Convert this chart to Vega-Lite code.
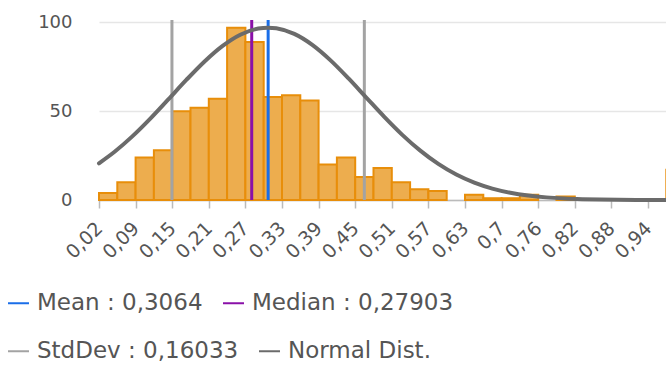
{
  "$schema": "https://vega.github.io/schema/vega-lite/v6.json",
  "width": 567,
  "height": 180,
  "autosize": {"type": "none"},
  "padding": {"left": 99, "top": 20, "right": 0, "bottom": 165},
  "background": "white",
  "config": {
    "view": {"stroke": null},
    "font": "DejaVu Sans",
    "axis": {"labelOverlap": false},
    "axisX": {"labelFontSize": 19},
    "legend": {
      "title": null,
      "orient": "none",
      "direction": "horizontal",
      "padding": 0,
      "columnPadding": 16,
      "symbolType": "stroke",
      "symbolSize": 441,
      "symbolStrokeWidth": 2,
      "labelFontSize": 23,
      "labelColor": "#555555",
      "labelOffset": 7,
      "labelLimit": 400
    }
  },
  "encoding": {
    "x": {
      "field": "x", "type": "quantitative",
      "scale": {"domain": [0.0245, 1.0005], "range": [0, 585.6], "nice": false, "zero": false},
      "axis": {
        "title": null,
        "values": [0.0245, 0.0855, 0.1465, 0.2075, 0.2685, 0.3295, 0.3905, 0.4515, 0.5125, 0.5735, 0.6345, 0.6955, 0.7565, 0.8175, 0.8785, 0.9395, 1.0005],
        "labelExpr": "replace(format(datum.value, '.2~f'), '.', ',')",
        "labelAngle": -45,
        "labelAlign": "right",
        "labelBaseline": "middle",
        "labelFontSize": 19,
        "labelColor": "#555555",
        "labelPadding": 17,
        "labelOverlap": false,
        "labelFlush": false,
        "domainColor": "#bbbbbb",
        "domainWidth": 1.5,
        "tickColor": "#bbbbbb",
        "tickWidth": 1.5,
        "tickSize": 8,
        "grid": false
      }
    }
  },
  "layer": [
    {
      "data": {"values": [
        {"x": 0.0245, "x2": 0.055, "y": 4},
        {"x": 0.055, "x2": 0.0855, "y": 10},
        {"x": 0.0855, "x2": 0.116, "y": 24},
        {"x": 0.116, "x2": 0.1465, "y": 28},
        {"x": 0.1465, "x2": 0.177, "y": 50},
        {"x": 0.177, "x2": 0.2075, "y": 52},
        {"x": 0.2075, "x2": 0.238, "y": 57},
        {"x": 0.238, "x2": 0.2685, "y": 97},
        {"x": 0.2685, "x2": 0.299, "y": 89},
        {"x": 0.299, "x2": 0.3295, "y": 58},
        {"x": 0.3295, "x2": 0.36, "y": 59},
        {"x": 0.36, "x2": 0.3905, "y": 56},
        {"x": 0.3905, "x2": 0.421, "y": 20},
        {"x": 0.421, "x2": 0.4515, "y": 24},
        {"x": 0.4515, "x2": 0.482, "y": 13},
        {"x": 0.482, "x2": 0.5125, "y": 18},
        {"x": 0.5125, "x2": 0.543, "y": 10},
        {"x": 0.543, "x2": 0.5735, "y": 6},
        {"x": 0.5735, "x2": 0.604, "y": 5},
        {"x": 0.6345, "x2": 0.665, "y": 3},
        {"x": 0.665, "x2": 0.6955, "y": 1},
        {"x": 0.6955, "x2": 0.726, "y": 1},
        {"x": 0.726, "x2": 0.7565, "y": 3},
        {"x": 0.787, "x2": 0.8175, "y": 2},
        {"x": 0.97, "x2": 1.0005, "y": 17}
      ]},
      "mark": {"type": "rect", "fill": "#edad4e", "stroke": "#e88e0a", "strokeWidth": 2},
      "encoding": {
        "x2": {"field": "x2"},
        "y": {
          "field": "y", "type": "quantitative",
          "scale": {"domain": [0, 101.4], "nice": false},
          "axis": {
            "title": null,
            "values": [0, 50, 100],
            "labelFontSize": 18,
            "labelColor": "#555555",
            "ticks": false,
            "tickSize": 0,
            "labelPadding": 27,
            "domain": false,
            "grid": true,
            "gridColor": "#e6e6e6",
            "gridWidth": 1.5
          }
        },
        "y2": {"datum": 0}
      }
    },
    {
      "data": {"values": [
        {"x": 0.3064, "series": "Mean : 0,3064"},
        {"x": 0.27903, "series": "Median : 0,27903"}
      ]},
      "mark": {"type": "rule", "strokeWidth": 3},
      "encoding": {
        "color": {
          "field": "series", "type": "nominal",
          "scale": {
            "domain": ["Mean : 0,3064", "Median : 0,27903"],
            "range": ["#1a6ee8", "#8a10a8"]
          },
          "legend": {"legendX": -92, "legendY": 271.5}
        }
      }
    },
    {
      "data": {"values": [
        {"x": 0.14607, "series": "StdDev : 0,16033"},
        {"x": 0.46673, "series": "StdDev : 0,16033"}
      ]},
      "mark": {"type": "rule", "strokeWidth": 3},
      "encoding": {
        "stroke": {
          "field": "series", "type": "nominal",
          "scale": {
            "domain": ["StdDev : 0,16033", "Normal Dist."],
            "range": ["#a3a3a3", "#6b6b6b"]
          },
          "legend": {"legendX": -92, "legendY": 319.5}
        }
      }
    },
    {
      "data": {"values": [
        {"x": 0.0245, "y": 20.69, "series": "Normal Dist."},
        {"x": 0.05, "y": 27.03, "series": "Normal Dist."},
        {"x": 0.08, "y": 35.83, "series": "Normal Dist."},
        {"x": 0.11, "y": 45.85, "series": "Normal Dist."},
        {"x": 0.14, "y": 56.67, "series": "Normal Dist."},
        {"x": 0.17, "y": 67.62, "series": "Normal Dist."},
        {"x": 0.20, "y": 77.91, "series": "Normal Dist."},
        {"x": 0.23, "y": 86.68, "series": "Normal Dist."},
        {"x": 0.26, "y": 93.12, "series": "Normal Dist."},
        {"x": 0.29, "y": 96.59, "series": "Normal Dist."},
        {"x": 0.3064, "y": 97.1, "series": "Normal Dist."},
        {"x": 0.32, "y": 96.75, "series": "Normal Dist."},
        {"x": 0.35, "y": 93.58, "series": "Normal Dist."},
        {"x": 0.38, "y": 87.39, "series": "Normal Dist."},
        {"x": 0.41, "y": 78.81, "series": "Normal Dist."},
        {"x": 0.44, "y": 68.62, "series": "Normal Dist."},
        {"x": 0.47, "y": 57.70, "series": "Normal Dist."},
        {"x": 0.50, "y": 46.84, "series": "Normal Dist."},
        {"x": 0.53, "y": 36.71, "series": "Normal Dist."},
        {"x": 0.56, "y": 27.80, "series": "Normal Dist."},
        {"x": 0.59, "y": 20.31, "series": "Normal Dist."},
        {"x": 0.62, "y": 14.33, "series": "Normal Dist."},
        {"x": 0.65, "y": 9.77, "series": "Normal Dist."},
        {"x": 0.68, "y": 6.43, "series": "Normal Dist."},
        {"x": 0.71, "y": 4.09, "series": "Normal Dist."},
        {"x": 0.74, "y": 2.51, "series": "Normal Dist."},
        {"x": 0.77, "y": 1.48, "series": "Normal Dist."},
        {"x": 0.80, "y": 0.85, "series": "Normal Dist."},
        {"x": 0.83, "y": 0.47, "series": "Normal Dist."},
        {"x": 0.86, "y": 0.25, "series": "Normal Dist."},
        {"x": 0.89, "y": 0.13, "series": "Normal Dist."},
        {"x": 0.92, "y": 0.06, "series": "Normal Dist."},
        {"x": 0.95, "y": 0.03, "series": "Normal Dist."},
        {"x": 0.98, "y": 0.01, "series": "Normal Dist."},
        {"x": 1.0005, "y": 0.0, "series": "Normal Dist."}
      ]},
      "mark": {"type": "line", "strokeWidth": 4, "interpolate": "monotone", "strokeCap": "round"},
      "encoding": {
        "y": {"field": "y", "type": "quantitative"},
        "stroke": {"field": "series", "type": "nominal"}
      }
    }
  ]
}
